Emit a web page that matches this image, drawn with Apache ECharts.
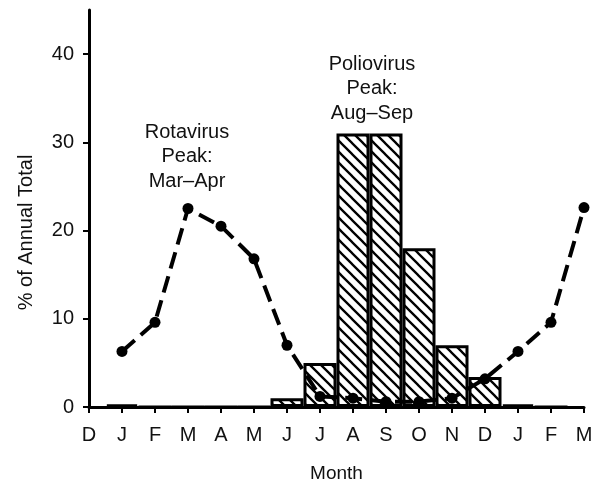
<!DOCTYPE html>
<html>
<head>
<meta charset="utf-8">
<script src="https://cdn.jsdelivr.net/npm/echarts@6/dist/echarts.min.js"></script>
<style>
  html, body { margin: 0; padding: 0; background: #fff; }
  #chart { width: 597px; height: 488px; }
</style>
</head>
<body>
<div id="chart"></div>
<script>
// months from Dec to the following Mar
const months = ['D', 'J', 'F', 'M', 'A', 'M', 'J', 'J', 'A', 'S', 'O', 'N', 'D', 'J', 'F', 'M'];
// poliovirus, % of annual total (bars)
const polio = [null, 0.3, 0, 0, 0, 0, 1, 5, 31, 31, 18, 7, 3.4, 0.3, 0, null];
// rotavirus, % of annual total (dashed line)
const rota = [null, 6.3, 9.6, 22.5, 20.5, 16.8, 7, 1.2, 1, 0.6, 0.6, 1, 3.2, 6.3, 9.6, 22.6];
const yTicks = [0, 10, 20, 30, 40];

// hatch pattern for the bars
const hatch = document.createElement('canvas');
hatch.width = 11;
hatch.height = 11;
const ctx = hatch.getContext('2d');
ctx.fillStyle = '#fff';
ctx.fillRect(0, 0, 11, 11);
ctx.strokeStyle = '#000';
ctx.lineWidth = 2.3;
ctx.beginPath();
ctx.moveTo(-1, -1); ctx.lineTo(12, 12);
ctx.moveTo(-1, 10); ctx.lineTo(1, 12);
ctx.moveTo(10, -1); ctx.lineTo(12, 1);
ctx.stroke();

const font = 'Liberation Sans, Arial, sans-serif';
const chart = echarts.init(document.getElementById('chart'));
chart.setOption({
  animation: false,
  grid: { left: 89, right: 13, top: 10, bottom: 79 },
  xAxis: {
    type: 'category',
    data: months,
    boundaryGap: false,
    name: 'Month',
    nameLocation: 'middle',
    nameGap: 57,
    nameTextStyle: { fontFamily: font, fontSize: 19, color: '#111' },
    axisLine: { lineStyle: { color: '#000', width: 3 } },
    axisTick: { length: 6, lineStyle: { color: '#000', width: 2 } },
    axisLabel: { fontFamily: font, fontSize: 20, color: '#111', margin: 18 }
  },
  yAxis: {
    type: 'value',
    min: 0,
    max: 45,
    interval: 10,
    name: '% of Annual Total',
    nameLocation: 'middle',
    nameGap: 53,
    nameTextStyle: { fontFamily: font, fontSize: 20, color: '#111', padding: [0, 48, 0, 0] },
    splitLine: { show: false },
    axisLine: { show: true, lineStyle: { color: '#000', width: 3 } },
    axisTick: { show: true, length: 6, customValues: yTicks, lineStyle: { color: '#000', width: 2 } },
    axisLabel: { fontFamily: font, fontSize: 20, color: '#111', margin: 15, customValues: yTicks }
  },
  series: [
    {
      name: 'Poliovirus',
      type: 'bar',
      data: polio,
      barWidth: '100%',
      itemStyle: {
        color: { image: hatch, repeat: 'repeat' },
        borderColor: '#000',
        borderWidth: 3
      }
    },
    {
      name: 'Rotavirus',
      type: 'line',
      data: rota,
      symbol: 'circle',
      symbolSize: 11,
      itemStyle: { color: '#000' },
      lineStyle: { color: '#000', width: 4, type: [17, 8] },
      z: 5
    }
  ],
  graphic: [
    {
      type: 'text', x: 187, y: 120,
      style: { text: 'Rotavirus\nPeak:\nMar–Apr', align: 'center', verticalAlign: 'top', font: '20px ' + font, lineHeight: 24.5, fill: '#111' }
    },
    {
      type: 'text', x: 372, y: 52,
      style: { text: 'Poliovirus\nPeak:\nAug–Sep', align: 'center', verticalAlign: 'top', font: '20px ' + font, lineHeight: 24.5, fill: '#111' }
    }
  ]
});
</script>
</body>
</html>
